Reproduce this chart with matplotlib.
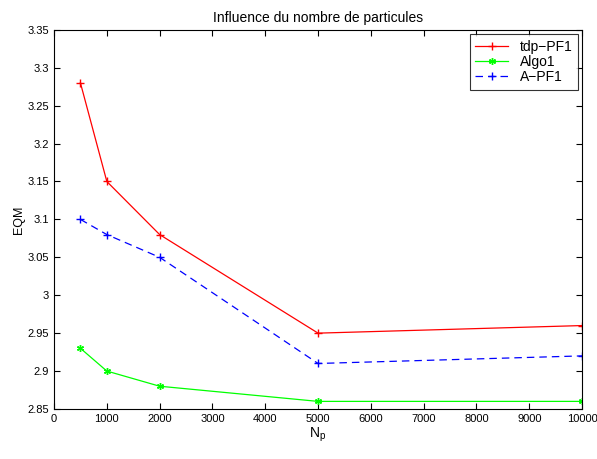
import matplotlib
matplotlib.use("Agg")
import matplotlib.pyplot as plt

# Data
n_particles = [500, 1000, 2000, 5000, 10000]
tdp_pf1 = [3.28, 3.15, 3.08, 2.95, 2.96]
algo1 = [2.93, 2.90, 2.88, 2.86, 2.86]
a_pf1 = [3.10, 3.08, 3.05, 2.91, 2.92]

plt.rcParams['font.family'] = ['Liberation Sans', 'DejaVu Sans']

fig = plt.figure(figsize=(5.97, 4.59), dpi=100)
ax = fig.add_axes([0.0905, 0.109, 0.8845, 0.826])

ax.plot(n_particles, tdp_pf1, color='red', linestyle='-', marker='+', markersize=6, linewidth=0.9, label='tdp\u2212PF1')
ax.plot(n_particles, algo1, color='#00ff00', linestyle='-', marker=(6, 2, 0), markersize=5, markeredgewidth=1.0, linewidth=0.9, label='Algo1')
ax.plot(n_particles, a_pf1, color='blue', linestyle=(0, (6, 4)), marker='+', markersize=6, linewidth=0.9, label='A\u2212PF1')

ax.set_xlim(0, 10000)
ax.set_ylim(2.85, 3.35)
ax.set_xticks(range(0, 10001, 1000))
ax.set_yticks([2.85, 2.9, 2.95, 3.0, 3.05, 3.1, 3.15, 3.2, 3.25, 3.3, 3.35])
ax.set_yticklabels(['2.85', '2.9', '2.95', '3', '3.05', '3.1', '3.15', '3.2', '3.25', '3.3', '3.35'])
ax.tick_params(direction='in', top=True, right=True, labelsize=8, length=4, width=0.8)
for s in ax.spines.values():
    s.set_linewidth(0.8)

ax.set_xlabel('N$_\\mathregular{p}$', fontsize=10, labelpad=1)
ax.set_ylabel('EQM', fontsize=9, labelpad=2)
ax.set_title('Influence du nombre de particules', fontsize=10, pad=6)

leg = ax.legend(loc='upper right', fontsize=10, fancybox=False, edgecolor='black',
                borderaxespad=0.3, handlelength=2.4, labelspacing=0.1)
leg.get_frame().set_linewidth(0.8)

fig.savefig('out.png', dpi=100)
